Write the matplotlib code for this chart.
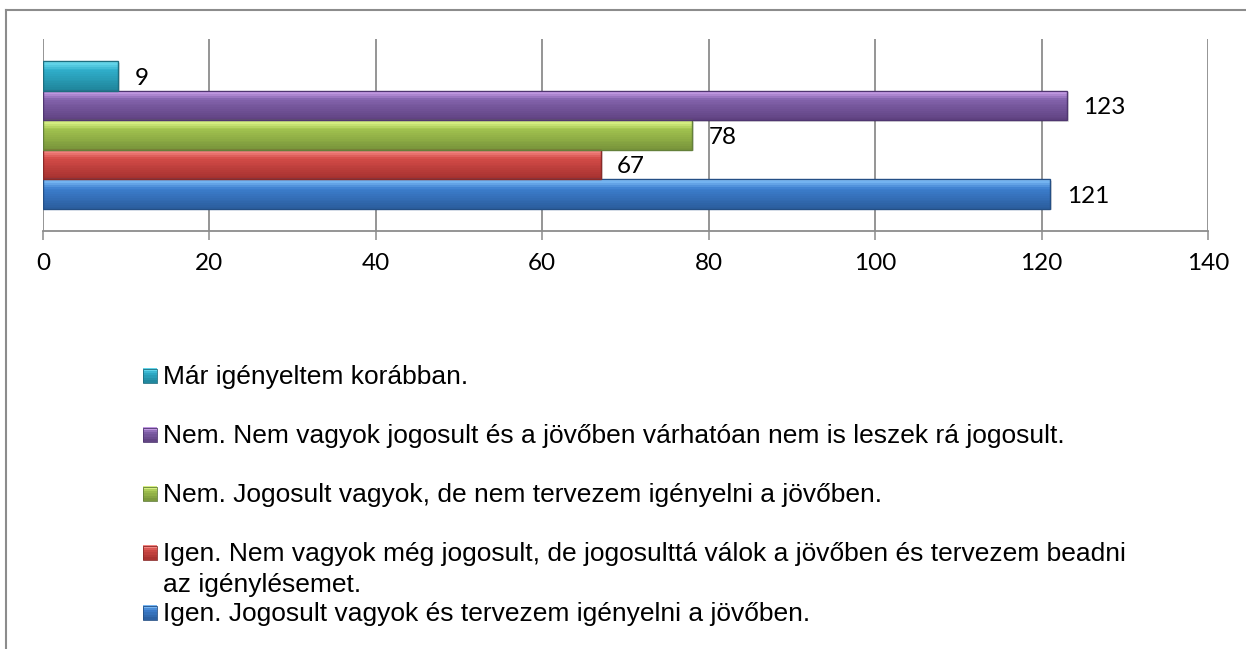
import matplotlib
matplotlib.use("Agg")
import matplotlib.pyplot as plt
import numpy as np
from matplotlib.lines import Line2D
from matplotlib.patches import Rectangle
from matplotlib.colors import to_rgb

# ---- data (bottom to top, as drawn) ----
series_labels = [
    "Igen. Jogosult vagyok és tervezem igényelni a jövőben.",
    "Igen. Nem vagyok még jogosult, de jogosulttá válok a jövőben és tervezem beadni\naz igénylésemet.",
    "Nem. Jogosult vagyok, de nem tervezem igényelni a jövőben.",
    "Nem. Nem vagyok jogosult és a jövőben várhatóan nem is leszek rá jogosult.",
    "Már igényeltem korábban.",
]
values = [121, 67, 78, 123, 9]
x_ticks = [0, 20, 40, 60, 80, 100, 120, 140]

# colour ramps (top highlight, middle, bottom shade, edge)
palettes = [
    ("#8ccaff", "#3d7fcf", "#2a5c9c", "#244f85"),   # blue
    ("#ff9a96", "#d24b47", "#a3302e", "#8a2a28"),   # red
    ("#eaff96", "#a2c34f", "#77933a", "#64803a"),   # green
    ("#d9adf7", "#8262ab", "#5e417f", "#4f3670"),   # purple
    ("#76e3f5", "#30afcb", "#1f8399", "#1d6e80"),   # cyan
]

W, H = 1246, 649
fig = plt.figure(figsize=(W / 100, H / 100), dpi=100)
fig.patch.set_facecolor("white")

# outer border (left & top visible)
bx, by = 6 / W, 1 - 9.5 / H
fig.add_artist(Line2D([bx, bx], [0, by], transform=fig.transFigure, color="#8c8c8c", lw=1.5))
fig.add_artist(Line2D([bx, 1], [by, by], transform=fig.transFigure, color="#8c8c8c", lw=1.5))

left, right, top, bottom = 43 / W, 1208 / W, 1 - 39 / H, 1 - 231 / H
ax = fig.add_axes([left, bottom, right - left, top - bottom])

n = len(values)
h = 1 / 6.5
centers = [(i - (n - 1) / 2) * h for i in range(n)]


def ramp(t, c_top, c_mid, c_bot):
    a, b, c = np.array(to_rgb(c_top)), np.array(to_rgb(c_mid)), np.array(to_rgb(c_bot))
    if t < 0.3:
        return a + (b - a) * (t / 0.3)
    return b + (c - b) * ((t - 0.3) / 0.7)


N = 16
for i, (v, yc, pal) in enumerate(zip(values, centers, palettes)):
    c_top, c_mid, c_bot, c_edge = pal
    # shadow
    ax.barh(yc - 0.008, v, height=h, left=0.25, color="#000000", alpha=0.12, linewidth=0, zorder=2)
    for k in range(N):
        t = (k + 0.5) / N
        ys = yc + h / 2 - (k + 0.5) * h / N
        ax.barh(ys, v, height=h / N * 1.02, color=ramp(t, c_top, c_mid, c_bot), linewidth=0, zorder=3)
    ax.barh(yc, v, height=h, fill=False, edgecolor=c_edge, linewidth=1.0, zorder=4)
    ax.annotate(str(v), xy=(v, yc), xytext=(12, -1.5), textcoords="offset points",
                va="center", ha="left", fontsize=17.5, family="Lato", color="black", zorder=5)

ax.set_xlim(0, 140)
ax.set_ylim(-0.5, 0.5)
ax.set_xticks(x_ticks)
ax.set_xticklabels([str(t) for t in x_ticks], fontsize=17.5, family="Lato")
ax.set_yticks([])
ax.grid(axis="x", color="#8c8c8c", linewidth=1.3)
ax.set_axisbelow(True)
for s in ["top", "right", "left"]:
    ax.spines[s].set_visible(False)
ax.spines["bottom"].set_color("#8c8c8c")
ax.spines["bottom"].set_linewidth(1.3)
ax.tick_params(axis="x", direction="out", length=6.5, width=1.1, color="#8c8c8c", pad=9)
ax.set_facecolor("none")

# ---- legend (top to bottom = reversed series order) ----
baselines = [384, 443, 502, 561, 621]
leg_order = [4, 3, 2, 1, 0]
for base, idx in zip(baselines, leg_order):
    c_top, c_mid, c_bot, c_edge = palettes[idx]
    mx0, my0 = 143, base - 8.5 - 7
    # marker: small bevelled square
    steps = 6
    for k in range(steps):
        t = (k + 0.5) / steps
        fig.add_artist(Rectangle((mx0 / W, 1 - (my0 + (k + 1) * 14 / steps) / H), 14 / W, 14 / steps / H * 1.05,
                                 transform=fig.transFigure, facecolor=ramp(t, c_top, c_mid, c_bot),
                                 linewidth=0))
    fig.add_artist(Rectangle((mx0 / W, 1 - (my0 + 14) / H), 14 / W, 14 / H, transform=fig.transFigure,
                             fill=False, edgecolor=c_edge, linewidth=0.6))
    lines = series_labels[idx].split("\n")
    for j, line in enumerate(lines):
        fig.text(163 / W, 1 - (base + 31 * j) / H, line, fontsize=19, family="Liberation Sans",
                 va="baseline", ha="left", color="black")

fig.savefig("out.png", dpi=100, facecolor="white")
